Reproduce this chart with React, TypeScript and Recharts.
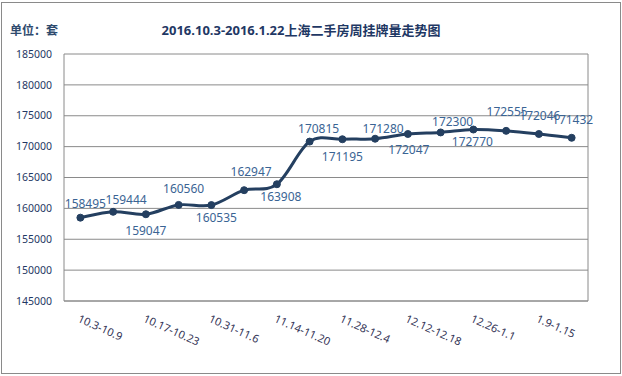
import React from 'react';
import { LineChart, Line, XAxis, YAxis, CartesianGrid, LabelList } from 'recharts';

const weeks = [
  '10.3-10.9', '10.10-10.16', '10.17-10.23', '10.24-10.30',
  '10.31-11.6', '11.7-11.13', '11.14-11.20', '11.21-11.27',
  '11.28-12.4', '12.5-12.11', '12.12-12.18', '12.19-12.25',
  '12.26-1.1', '1.2-1.8', '1.9-1.15', '1.16-1.22',
];
const listings = [
  158495, 159444, 159047, 160560, 160535, 162947, 163908, 170815,
  171195, 171280, 172047, 172300, 172770, 172555, 172046, 171432,
];
const yTicks = [145000, 150000, 155000, 160000, 165000, 170000, 175000, 180000, 185000];
const weekBoundaries = [1, 2, 3, 4, 5, 6, 7, 8, 9, 10, 11, 12, 13, 14, 15];
const titleText = '2016.10.3-2016.1.22上海二手房周挂牌量走势图';
const unitText = '单位：套';

// label nudges (style only): [dx, dy] from each point
const labelNudges: [number, number][] = [
  [5, -14], [13, -12], [0, 16], [5, -16], [5, 12], [7, -19], [4, 12], [9, -13],
  [0, 17], [8, -10], [1, 16], [12, -11], [-1, 12], [1, -19], [1, -18], [1, -18],
];

const data = weeks.map((w, i) => ({ week: w, value: listings[i] }));

const FONT = "'Noto Sans', 'Noto Sans CJK SC', sans-serif";
const LINE_COLOR = '#243F60';
const GRID = '#8a8a8a';

// Excel-like smoothing (Catmull-Rom via Bezier)
const excelSmooth: any = (context: any) => {
  let pts: number[][] = [];
  return {
    areaStart() {},
    areaEnd() {},
    lineStart() { pts = []; },
    point(x: number, y: number) { pts.push([+x, +y]); },
    lineEnd() {
      const n = pts.length;
      if (!n) return;
      context.moveTo(pts[0][0], pts[0][1]);
      for (let i = 0; i < n - 1; i++) {
        const p0 = pts[i - 1] || pts[i];
        const p1 = pts[i];
        const p2 = pts[i + 1];
        const p3 = pts[i + 2] || p2;
        context.bezierCurveTo(
          p1[0] + (p2[0] - p0[0]) / 6, p1[1] + (p2[1] - p0[1]) / 6,
          p2[0] - (p3[0] - p1[0]) / 6, p2[1] - (p3[1] - p1[1]) / 6,
          p2[0], p2[1]
        );
      }
    },
  };
};

const WeekTick = (props: any) => {
  const { x, y, payload } = props;
  return (
    <g transform={`translate(${x},${y})`}>
      <text x={0} y={0} dy="0.75em" transform="rotate(24)" textAnchor="start"
        fill="#333355" fontSize={11} fontFamily={FONT}>
        {payload.value}
      </text>
    </g>
  );
};

const DataLabel = (props: any) => {
  const { x, y, value, index } = props;
  const [dx, dy] = labelNudges[index] || [0, -12];
  return (
    <text x={x + dx} y={y + dy} textAnchor="middle" dominantBaseline="central"
      fill="#3A6494" fontSize={12} fontFamily={FONT}>
      {value}
    </text>
  );
};

export default function App() {
  return (
    <div style={{ position: 'absolute', left: 0, top: 0, width: 622, height: 376, background: '#fff', fontFamily: FONT }}>
      <div style={{ position: 'absolute', left: 1, top: 2, width: 620, height: 372, border: '1px solid #8a8a8a', boxSizing: 'border-box' }} />
      <div style={{ position: 'absolute', left: 10, top: 23, fontSize: 12, lineHeight: '16px', fontWeight: 700, color: '#2F4B6E', whiteSpace: 'nowrap' }}>{unitText}</div>
      <div style={{ position: 'absolute', left: 0, width: 602, top: 22, textAlign: 'center', fontSize: 13, lineHeight: '16px', fontWeight: 700, color: '#1F3864', whiteSpace: 'nowrap' }}>{titleText}</div>
      <div style={{ position: 'absolute', left: 0, top: 0 }}>
        <LineChart width={622} height={376} data={data} margin={{ top: 54, right: 34, bottom: 15, left: 14 }}>
          <CartesianGrid
            stroke={GRID}
            strokeWidth={1}
            verticalCoordinatesGenerator={({ offset }: any) => [offset.left, offset.left + offset.width]}
          />
          <XAxis dataKey="week" scale="band" interval={1} tick={<WeekTick />} tickLine={false} tickSize={0} tickMargin={13}
            axisLine={{ stroke: GRID }} height={60} />
          <XAxis xAxisId="t" type="number" domain={[0, 16]} allowDataOverflow ticks={weekBoundaries}
            mirror orientation="bottom" tick={false} axisLine={false} tickSize={4} tickLine={{ stroke: GRID }} height={0} />
          <YAxis domain={[145000, 185000]} ticks={yTicks} interval={0} axisLine={false} tickLine={false}
            tickSize={6} tickMargin={6} width={50}
            tick={{ fill: '#1F3864', fontSize: 10.5, fontFamily: FONT }} />
          <Line type={excelSmooth} dataKey="value" stroke={LINE_COLOR} strokeWidth={3}
            dot={{ r: 3.5, fill: LINE_COLOR, stroke: LINE_COLOR, strokeWidth: 1 }}
            activeDot={false} isAnimationActive={false}>
            <LabelList dataKey="value" content={<DataLabel />} />
          </Line>
        </LineChart>
      </div>
    </div>
  );
}
